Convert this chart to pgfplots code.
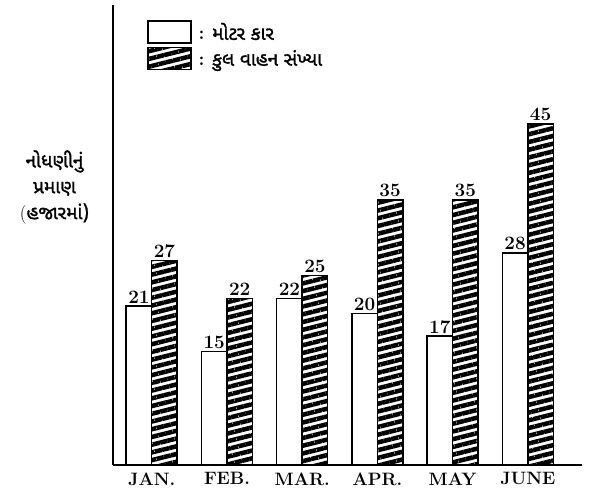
\documentclass[border=0pt]{standalone}
\usepackage{fontspec}
\usepackage{pgfplots}
\pgfplotsset{compat=1.18}
\usetikzlibrary{patterns.meta}
\newfontfamily\guj[Script=Gujarati, FakeBold=1.5]{Noto Sans Gujarati UI}

\begin{document}
\begin{tikzpicture}
\useasboundingbox (0,0) rectangle (603bp,498bp);
\begin{axis}[
  at={(112.7bp,33bp)}, anchor=south west,
  scale only axis, width=469.3bp, height=460bp,
  xmin=-0.519, xmax=5.72, ymin=0, ymax=60.7,
  ybar=0pt, bar width=25.5bp,
  axis x line*=bottom, axis y line*=left,
  axis line style={-, line width=1.8bp},
  ytick=\empty,
  xtick={0,...,5}, xticklabels={JAN., FEB., MAR., APR., MAY, JUNE},
  major tick length=0pt,
  xticklabel style={font=\fontsize{18}{20}\selectfont\bfseries, yshift=-4bp},
  nodes near coords,
  nodes near coords style={font=\fontsize{19}{20}\selectfont\bfseries, inner sep=2bp},
  /pgf/number format/assume math mode=true,
  clip=false,
  ylabel={\guj નોધણીનું\\ \guj પ્રમાણ\\ (\guj હજારમાં)},
  ylabel style={rotate=-90, align=center, font=\fontsize{19}{26}\selectfont, at={(rel axis cs:0,0.604)}, anchor=east, xshift=-20bp},
  legend style={at={(rel axis cs:0.0731,0.967)}, anchor=north west, draw=none, fill=none, font=\fontsize{19}{20}\selectfont, row sep=3bp, inner sep=0pt, legend cell align=left},
  legend image code/.code={\draw[#1] (0bp,-11bp) rectangle (43bp,11bp);},
]
\addplot[draw=black, line width=1.5bp, fill=white] coordinates {(0,21) (1,15) (2,22) (3,20) (4,17) (5,28)};
\addlegendentry{\hspace{5bp}{\bfseries :} \guj મોટર કાર}
\addplot[draw=black, line width=1.5bp, fill=white,
  pattern={Lines[angle=14,distance=7.5bp,line width=4.5bp]}, pattern color=black] coordinates {(0,27) (1,22) (2,25) (3,35) (4,35) (5,45)};
\addlegendentry{\hspace{5bp}{\bfseries :} \guj કુલ વાહન સંખ્યા}
\end{axis}
\end{tikzpicture}
\end{document}
